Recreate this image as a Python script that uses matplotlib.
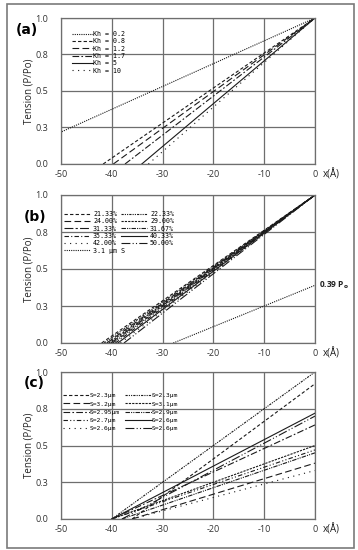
import matplotlib
matplotlib.use("Agg")
import matplotlib.pyplot as plt
from matplotlib.patches import Rectangle

# ---------------- data ----------------
# Panel (a): lines from x-intercept (y=0) to (0, end)
kh_labels = ["Kh = 0.2", "Kh = 0.8", "Kh = 1.2", "Kh = 1.7", "Kh = 5", "Kh = 10"]
kh_x0 = [-64.0, -41.7, -39.7, -37.4, -34.1, -32.8]
kh_end = [1.0, 1.0, 1.0, 1.0, 1.0, 1.0]

# Panel (b)
b_labels = ["21.33%", "22.33%", "24.00%", "29.00%", "31.33%", "31.67%",
            "35.33%", "40.33%", "42.00%", "50.00%", "3.1 µm S"]
b_x0 = [-42.0, -41.5, -41.0, -40.6, -40.2, -39.8, -39.3, -38.8, -38.3, -37.6, -27.9]
b_end = [1.0, 1.0, 1.0, 1.0, 1.0, 1.0, 1.0, 1.0, 1.0, 1.0, 0.39]

# Panel (c)
c_labels = ["S=2.3µm", "S=2.3µm", "S=3.2µm", "S=3.1µm", "S=2.95µm", "S=2.9µm",
            "S=2.7µm", "S=2.6µm", "S=2.6µm", "S=2.6µm"]
c_x0 = [-36.0, -40.0, -36.0, -40.0, -40.0, -38.0, -40.0, -40.0, -36.0, -38.0]
c_end = [0.92, 1.0, 0.38, 0.50, 0.64, 0.45, 0.47, 0.72, 0.33, 0.70]

x_ticks = [-50, -40, -30, -20, -10, 0]
x_ticklabels = ["-50", "-40", "-30", "-20", "-10", "0"]
y_ticks = [0.0, 0.25, 0.5, 0.75, 1.0]
y_ticklabels = ["0.0", "0.3", "0.5", "0.8", "1.0"]

# ---------------- styles ----------------
K = "#1a1a1a"
a_styles = [(0, (1, 1)), (0, (3, 2)), (0, (6, 3)), (0, (6, 2, 1.5, 2)), "-", (0, (1, 4))]
b_styles = [(0, (3, 2)), (0, (2, 1, 1, 1, 1, 1)), (0, (6, 3)), (0, (2, 1)),
            (0, (8, 2, 2, 2)), (0, (4, 1, 1, 1, 1, 1)), (0, (4, 2, 1, 2)), "-",
            (0, (1, 4)), (0, (8, 2, 1, 2, 1, 2)), (0, (1, 1))]
c_styles = [(0, (3, 2)), (0, (2, 1, 1, 1, 1, 1)), (0, (6, 3)), (0, (2, 1)),
            (0, (6, 2, 1.5, 2)), (0, (4, 1, 1, 1, 1, 1)), (0, (4, 2, 1, 2, 1, 2)), "-",
            (0, (1, 4)), (0, (8, 2, 1, 2, 1, 2))]

W, H = 358, 550
fig = plt.figure(figsize=(W / 100, H / 100), dpi=100)
fig.patches.append(Rectangle((7 / W, 2 / H), 347 / W, 544 / H, transform=fig.transFigure,
                             fill=False, edgecolor="#7a7a7a", linewidth=1.2))

tick_font = "Open Sans"
mono = "DejaVu Sans Mono"


def setup(ax, label, label_xy, h_px):
    ax.set_xlim(-50, 0)
    ax.set_ylim(0, 1)
    ax.set_xticks(x_ticks)
    ax.set_xticklabels(x_ticklabels, fontfamily=tick_font, fontsize=6.5, color="#333")
    ax.set_yticks(y_ticks)
    ax.set_yticklabels(y_ticklabels, fontfamily=tick_font, fontsize=6.5, color="#333")
    ax.tick_params(length=0, pad=9)
    ax.tick_params(axis="x", pad=4)
    ax.grid(True, color="#6e6e6e", linewidth=0.9)
    for s in ax.spines.values():
        s.set_color("#6e6e6e")
        s.set_linewidth(0.9)
    ax.set_axisbelow(True)
    ax.set_ylabel("Tension (P/Po)", fontfamily=tick_font, fontsize=7, color="#222")
    ax.yaxis.set_label_coords(-26 / 254, 0.5)
    ax.text(1.03, -10.5 / h_px, "x(Å)", transform=ax.transAxes, fontfamily=tick_font,
            fontsize=7, color="#222", ha="left", va="center")
    fig.text(label_xy[0] / W, 1 - label_xy[1] / H, label, fontfamily="DejaVu Sans",
             fontweight="bold", fontsize=10, ha="center", va="center")


def draw(ax, x0s, ends, styles, labels):
    hs = []
    for x0, e, st, lb in zip(x0s, ends, styles, labels):
        h, = ax.plot([x0, 0], [0, e], color=K, linestyle=st, linewidth=0.8, label=lb)
        hs.append(h)
    return hs


# (a)
ax1 = fig.add_axes([61 / W, 1 - 164 / H, 254 / W, 146 / H])
setup(ax1, "(a)", (27, 30), 146)
h1 = draw(ax1, kh_x0, kh_end, a_styles, kh_labels)
ax1.legend(handles=h1, loc="upper left", bbox_to_anchor=(11 / 254, 1 - 13 / 146),
           frameon=False, prop={"family": mono, "size": 4.8}, handlelength=3.1,
           handletextpad=0.0, labelspacing=0.2, borderaxespad=0, borderpad=0)

# (b)
ax2 = fig.add_axes([61 / W, 1 - 343 / H, 254 / W, 148 / H])
setup(ax2, "(b)", (35, 217), 148)
h2 = draw(ax2, b_x0, b_end, b_styles, b_labels)
order_b = [0, 2, 4, 6, 8, 10, 1, 3, 5, 7, 9]
ax2.legend(handles=[h2[i] for i in order_b], loc="upper left",
           bbox_to_anchor=(3 / 254, 1 - 16 / 148),
           ncol=2, frameon=False, prop={"family": mono, "size": 4.8}, handlelength=3.9,
           handletextpad=0.45, labelspacing=0.2, columnspacing=-0.6,
           borderaxespad=0, borderpad=0)
ax2.text(1.015, 0.39, "0.39 P$_\\mathbf{o}$", transform=ax2.transAxes, fontfamily=tick_font,
         fontweight="bold", fontsize=6, color="#222", ha="left", va="center")

# (c)
ax3 = fig.add_axes([61 / W, 1 - 519 / H, 254 / W, 147 / H])
setup(ax3, "(c)", (34, 383), 147)
h3 = draw(ax3, c_x0, c_end, c_styles, c_labels)
order_c = [0, 2, 4, 6, 8, 1, 3, 5, 7, 9]
ax3.legend(handles=[h3[i] for i in order_c], loc="upper left",
           bbox_to_anchor=(2 / 254, 1 - 21 / 147),
           ncol=2, frameon=False, prop={"family": mono, "size": 4.5}, handlelength=4.3,
           handletextpad=0.0, labelspacing=0.45, columnspacing=0.8,
           borderaxespad=0, borderpad=0)

fig.savefig("out.png", dpi=100)
